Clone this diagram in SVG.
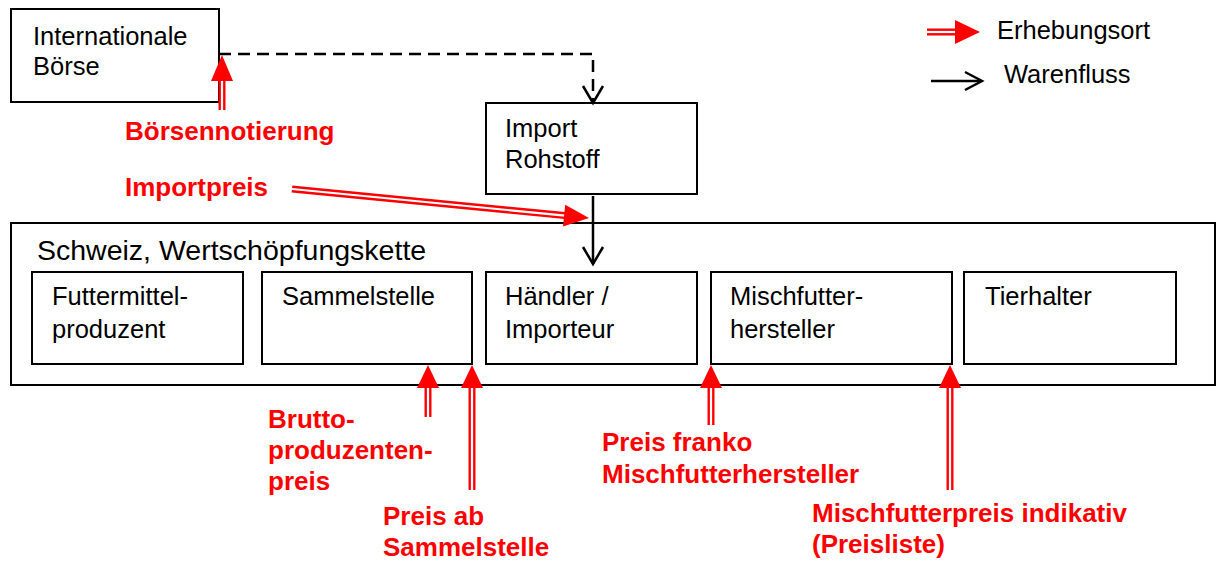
<svg xmlns="http://www.w3.org/2000/svg" width="1216" height="561" viewBox="0 0 1216 561">
<style>
.box{fill:#fff;stroke:#000;stroke-width:2}
.t{font-family:"Liberation Sans",Arial,sans-serif;font-size:25.5px;fill:#000}
.title{font-family:"Liberation Sans",Arial,sans-serif;font-size:28.5px;fill:#000}
.r{font-family:"Liberation Sans",Arial,sans-serif;font-size:26px;font-weight:bold;fill:#ff0000}
.flow{fill:none;stroke:#000;stroke-width:2.5}
.head{fill:none;stroke:#000;stroke-width:2.5;stroke-linejoin:miter}
.dl{fill:none;stroke:#ff0000;stroke-width:7}
.dw{fill:none;stroke:#fff;stroke-width:2.2}
.tri{fill:#ff0000}
</style>
<rect width="1216" height="561" fill="#fff"/>
<g id="schweiz">
<rect class="box" x="11" y="223" width="1204" height="162"/>
<text class="title" x="37" y="260">Schweiz, Wertschöpfungskette</text>
</g>
<g id="boerse">
<rect class="box" x="11" y="9" width="208" height="93"/>
<text class="t" x="33" y="45">Internationale</text>
<text class="t" x="33" y="75">Börse</text>
</g>
<g id="import">
<rect class="box" x="486" y="103" width="211" height="91"/>
<text class="t" x="505" y="137">Import</text>
<text class="t" x="505" y="168">Rohstoff</text>
</g>
<g id="futtermittel">
<rect class="box" x="32" y="272" width="211" height="92"/>
<text class="t" x="52" y="305">Futtermittel-</text>
<text class="t" x="52" y="338">produzent</text>
</g>
<g id="sammelstelle">
<rect class="box" x="262" y="272" width="210" height="92"/>
<text class="t" x="282" y="305">Sammelstelle</text>
</g>
<g id="haendler">
<rect class="box" x="486" y="272" width="211" height="92"/>
<text class="t" x="505" y="305">Händler /</text>
<text class="t" x="505" y="338">Importeur</text>
</g>
<g id="mischfutter">
<rect class="box" x="711" y="272" width="241" height="92"/>
<text class="t" x="730" y="305">Mischfutter-</text>
<text class="t" x="730" y="338">hersteller</text>
</g>
<g id="tierhalter">
<rect class="box" x="964" y="272" width="212" height="92"/>
<text class="t" x="985" y="305">Tierhalter</text>
</g>
<g id="connectors">
<path class="flow" d="M219,54 H593 V102" stroke-dasharray="12,7"/>
<path class="head" d="M583,86 L593,103 L603,86"/>
<path class="flow" d="M593,196 V264"/>
<path class="head" d="M583,247 L593,264 L603,247"/>
</g>
<g id="erhebung">
<path class="dl" d="M222,80 V110"/><path class="dw" d="M222,80 V110"/>
<polygon class="tri" points="222,55 233,81 211,81"/>
<path class="dl" d="M292,189 L565,215.6"/><path class="dw" d="M292,189 L565,215.6"/>
<polygon class="tri" points="589,218 565.2,204.7 563,226.5"/>
<path class="dl" d="M428,387 V417"/><path class="dw" d="M428,387 V417"/>
<polygon class="tri" points="428,365 439,388 417,388"/>
<path class="dl" d="M472,387 V490"/><path class="dw" d="M472,387 V490"/>
<polygon class="tri" points="472,365 483,388 461,388"/>
<path class="dl" d="M711,387 V425"/><path class="dw" d="M711,387 V425"/>
<polygon class="tri" points="711,365 722,388 700,388"/>
<path class="dl" d="M950,387 V490"/><path class="dw" d="M950,387 V490"/>
<polygon class="tri" points="950,365 961,388 939,388"/>
</g>
<g id="labels">
<text class="r" x="125" y="140">Börsennotierung</text>
<text class="r" x="125" y="196">Importpreis</text>
<text class="r" x="268" y="428">Brutto-</text>
<text class="r" x="268" y="459">produzenten-</text>
<text class="r" x="268" y="490">preis</text>
<text class="r" x="383" y="525">Preis ab</text>
<text class="r" x="383" y="556">Sammelstelle</text>
<text class="r" x="602" y="451">Preis franko</text>
<text class="r" x="602" y="483">Mischfutterhersteller</text>
<text class="r" x="812" y="522">Mischfutterpreis indikativ</text>
<text class="r" x="812" y="553">(Preisliste)</text>
</g>
<g id="legend">
<path class="dl" d="M927,32 H956"/><path class="dw" d="M927,32 H956"/>
<polygon class="tri" points="980,32 955,20 955,44"/>
<text class="t" x="997" y="39">Erhebungsort</text>
<path class="flow" d="M931,81 H981"/>
<path class="head" d="M965,72 L982,81 L965,90"/>
<text class="t" x="1004" y="83">Warenfluss</text>
</g>
</svg>
